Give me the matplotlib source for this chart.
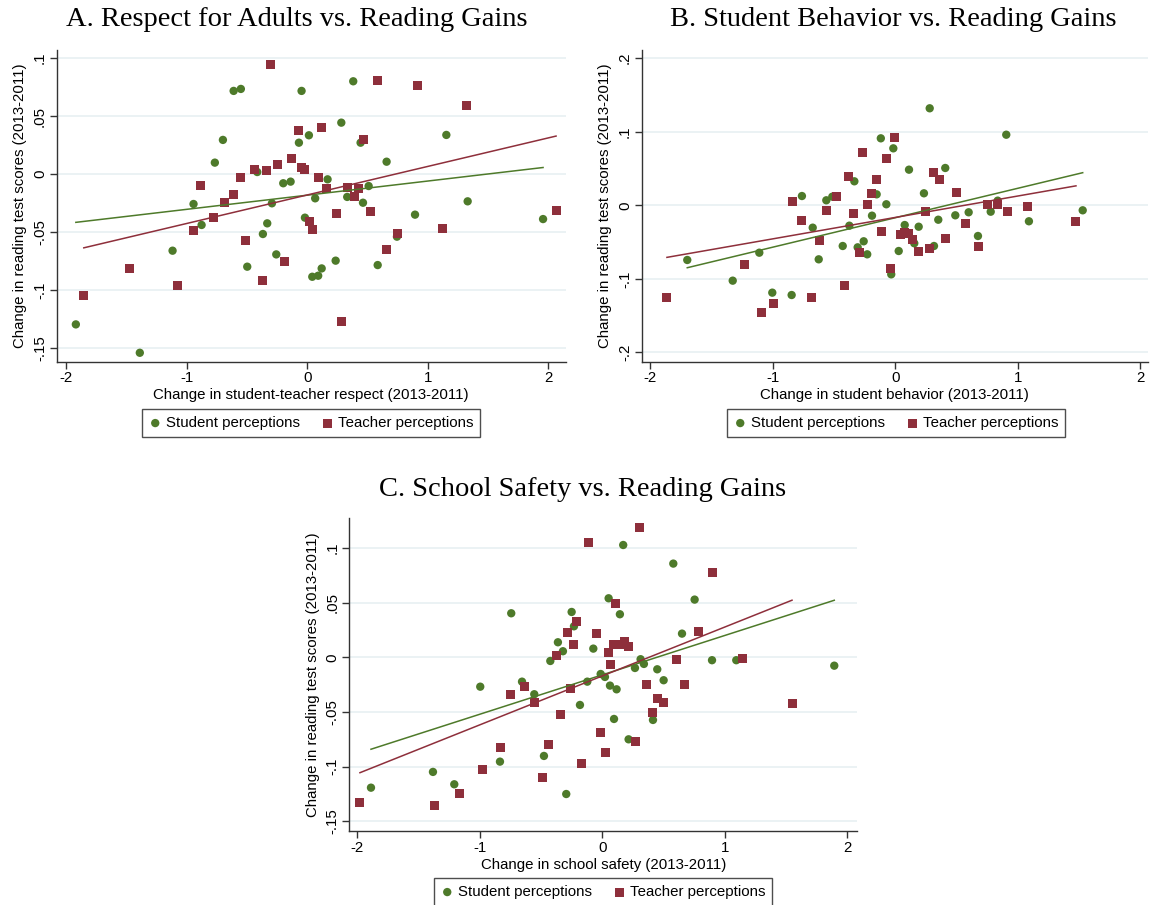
import matplotlib
matplotlib.use("Agg")
import matplotlib.pyplot as plt
import numpy as np
from matplotlib.ticker import FuncFormatter

plt.rcParams['font.family'] = ['Liberation Sans', 'DejaVu Sans']
plt.rcParams['axes.unicode_minus'] = False

# ---------------- Data ----------------
# Panel A: Respect for Adults
a_stu_x = [-1.921, -1.390, -1.118, -0.944, -0.877, -0.767, -0.700, -0.611, -0.551, -0.498,
           -0.415, -0.368, -0.332, -0.293, -0.257, -0.199, -0.138, -0.047, -0.069, 0.014,
           -0.019, 0.066, 0.042, 0.091, 0.120, 0.169, 0.236, 0.283, 0.332, 0.382,
           0.443, 0.463, 0.510, 0.585, 0.659, 0.745, 0.895, 1.155, 1.332, 1.958]
a_stu_y = [-0.1298, -0.1543, -0.0662, -0.0259, -0.0440, 0.0098, 0.0294, 0.0717, 0.0734, -0.0800,
           0.0017, -0.0518, -0.0426, -0.0253, -0.0694, -0.0080, -0.0066, 0.0717, 0.0270, 0.0334,
           -0.0377, -0.0210, -0.0887, -0.0878, -0.0815, -0.0046, -0.0748, 0.0443, -0.0198, 0.0800,
           0.0270, -0.0248, -0.0104, -0.0786, 0.0106, -0.0541, -0.0351, 0.0337, -0.0236, -0.0389]
a_tea_x = [-1.855, -1.473, -1.074, -0.944, -0.883, -0.777, -0.686, -0.611, -0.551, -0.509,
           -0.434, -0.370, -0.337, -0.301, -0.246, -0.185, -0.133, -0.069, 0.122, -0.047,
           -0.019, 0.095, 0.161, 0.020, 0.045, 0.244, 0.286, 0.338, 0.396, 0.429,
           0.468, 0.526, 0.585, 0.662, 0.751, 0.917, 1.125, 1.326, 2.066]
a_tea_y = [-0.1045, -0.0812, -0.0959, -0.0484, -0.0101, -0.0377, -0.0245, -0.0179, -0.0032, -0.0570,
           0.0037, -0.0915, 0.0029, 0.0941, 0.0084, -0.0751, 0.0130, 0.0374, 0.0400, 0.0055,
           0.0035, -0.0032, -0.0124, -0.0412, -0.0481, -0.0340, -0.1275, -0.0115, -0.0198, -0.0124,
           0.0299, -0.0320, 0.0806, -0.0654, -0.0513, 0.0760, -0.0472, 0.0590, -0.0311]
a_fit = {'stu': (-0.0183, 0.0122), 'tea': (-0.0181, 0.0246)}  # (intercept, slope)

# Panel B: Student Behavior
b_stu_x = [-1.698, -1.327, -1.110, -1.004, -0.846, -0.762, -0.674, -0.625, -0.563, -0.514,
           -0.429, -0.375, -0.334, -0.307, -0.258, -0.229, -0.190, -0.152, -0.118, -0.016,
           -0.073, 0.112, 0.234, 0.281, 0.408, 0.077, 0.191, 0.155, 0.028, 0.351,
           0.316, -0.033, 0.490, 0.599, 0.675, 0.779, 0.836, 0.906, 1.091, 1.530]
b_stu_y = [-0.0743, -0.1024, -0.0644, -0.1187, -0.1219, 0.0126, -0.0304, -0.0734, 0.0068, 0.0117,
           -0.0553, -0.0277, 0.0326, -0.0571, -0.0489, -0.0666, -0.0141, 0.0149, 0.0910, 0.0774,
           0.0014, 0.0484, 0.0163, 0.1318, 0.0507, -0.0268, -0.0291, -0.0516, -0.0621, -0.0196,
           -0.0553, -0.0938, -0.0136, -0.0095, -0.0417, -0.0087, 0.0063, 0.0959, -0.0217, -0.0068]
b_tea_x = [-1.864, -1.233, -1.088, -0.996, -0.835, -0.762, -0.680, -0.617, -0.560, -0.478,
           -0.413, -0.380, -0.340, -0.296, -0.264, -0.225, -0.193, -0.155, -0.110, -0.070,
           -0.005, -0.043, 0.044, 0.073, 0.109, 0.144, 0.191, 0.248, 0.283, 0.316,
           0.357, 0.411, 0.501, 0.577, 0.681, 0.749, 0.838, 0.917, 1.083, 1.475]
b_tea_y = [-0.1246, -0.0811, -0.1459, -0.1328, 0.0058, -0.0209, -0.1246, -0.0485, -0.0064, 0.0117,
           -0.1083, 0.0398, -0.0114, -0.0644, 0.0715, 0.0008, 0.0158, 0.0348, -0.0360, 0.0633,
           0.0919, -0.0861, -0.0399, -0.0372, -0.0386, -0.0471, -0.0630, -0.0091, -0.0589, 0.0443,
           0.0348, -0.0454, 0.0171, -0.0254, -0.0562, 0.0008, 0.0014, -0.0087, -0.0019, -0.0223]
b_fit = {'stu': (-0.0169, 0.0400), 'tea': (-0.0165, 0.0291)}

# Panel C: School Safety
c_stu_x = [-1.888, -1.382, -1.208, -0.996, -0.835, -0.743, -0.655, -0.555, -0.476, -0.424,
           -0.362, -0.321, -0.294, -0.250, -0.231, -0.182, -0.122, -0.073, -0.013, 0.022,
           0.052, 0.063, 0.096, 0.117, 0.144, 0.171, 0.215, 0.267, 0.313, 0.340,
           0.414, 0.449, 0.501, 0.580, 0.651, 0.754, 0.896, 1.094, 1.894]
c_stu_y = [-0.1192, -0.1048, -0.1161, -0.0269, -0.0954, 0.0402, -0.0223, -0.0338, -0.0902, -0.0034,
           0.0137, 0.0055, -0.1250, 0.0414, 0.0283, -0.0436, -0.0223, 0.0079, -0.0153, -0.0180,
           0.0539, -0.0259, -0.0564, -0.0293, 0.0393, 0.1026, -0.0750, -0.0098, -0.0018, -0.0061,
           -0.0573, -0.0110, -0.0210, 0.0856, 0.0216, 0.0527, -0.0027, -0.0027, -0.0077]
c_tea_x = [-1.978, -1.368, -1.167, -0.976, -0.829, -0.745, -0.631, -0.552, -0.490, -0.438,
           -0.370, -0.337, -0.283, -0.258, -0.231, -0.209, -0.168, -0.109, -0.051, -0.011,
           0.030, 0.047, 0.071, 0.112, 0.093, 0.139, 0.183, 0.218, 0.275, 0.308,
           0.365, 0.414, 0.455, 0.496, 0.602, 0.675, 0.789, 0.896, 1.146, 1.549]
c_tea_y = [-0.1323, -0.1356, -0.1247, -0.1027, -0.0826, -0.0342, -0.0269, -0.0415, -0.1103, -0.0799,
           0.0015, -0.0525, 0.0225, -0.0290, 0.0115, 0.0325, -0.0975, 0.1048, 0.0213, -0.0689,
           -0.0875, 0.0042, -0.0070, 0.0494, 0.0115, 0.0115, 0.0140, 0.0097, -0.0771, 0.1188,
           -0.0253, -0.0506, -0.0378, -0.0415, -0.0025, -0.0253, 0.0231, 0.0771, -0.0013, -0.0427]
c_fit = {'stu': (-0.0161, 0.0360), 'tea': (-0.0171, 0.0447)}

titles = ["A. Respect for Adults vs. Reading Gains",
          "B. Student Behavior vs. Reading Gains",
          "C. School Safety vs. Reading Gains"]
xlabels = ["Change in student-teacher respect (2013-2011)",
           "Change in student behavior (2013-2011)",
           "Change in school safety (2013-2011)"]
ylabel = "Change in reading test scores (2013-2011)"
legend_labels = ["Student perceptions", "Teacher perceptions"]
x_ticks = [-2, -1, 0, 1, 2]
y_ticks_a = [-0.15, -0.1, -0.05, 0, 0.05, 0.1]
y_ticks_b = [-0.2, -0.1, 0, 0.1, 0.2]
y_ticks_c = [-0.15, -0.1, -0.05, 0, 0.05, 0.1]

# ---------------- Style ----------------
GREEN = '#4e7a2a'
RED = '#8e2f3b'
GRID = '#e9f1f3'
SPINE = '#333333'
W, H = 1150, 905


def stata_fmt(v, pos):
    if abs(v) < 1e-9:
        return "0"
    s = ("%g" % round(v, 4))
    s = s.replace("0.", ".")
    return s


def make_panel(rect, sx, sy, tx, ty, fit, xlim, ylim, yticks, xlabel, title, tcenter, legcenter):
    ax = fig.add_axes(rect)
    for ycv in yticks:
        ax.axhline(ycv, color=GRID, lw=1.3, zorder=0)
    ax.scatter(sx, sy, s=36, marker='o', color=GREEN, edgecolors='none', zorder=3,
               label=legend_labels[0])
    ax.scatter(tx, ty, s=42, marker='s', color=RED, edgecolors='none', zorder=3,
               label=legend_labels[1])
    for key, xs, col in (('stu', sx, GREEN), ('tea', tx, RED)):
        b0, b1 = fit[key]
        xx = np.array([min(xs), max(xs)])
        ax.plot(xx, b0 + b1 * xx, color=col, lw=1.1, zorder=4)
    ax.set_xlim(*xlim)
    ax.set_ylim(*ylim)
    ax.set_xticks(x_ticks)
    ax.set_yticks(yticks)
    ax.yaxis.set_major_formatter(FuncFormatter(stata_fmt))
    for lab in ax.get_yticklabels():
        lab.set_rotation(90)
        lab.set_va('center')
    ax.spines['top'].set_visible(False)
    ax.spines['right'].set_visible(False)
    for sp in ('left', 'bottom'):
        ax.spines[sp].set_color(SPINE)
        ax.spines[sp].set_linewidth(1.0)
    ax.tick_params(axis='both', direction='out', length=5, width=1.0, color=SPINE,
                   labelsize=10.8, labelcolor='black', pad=2)
    ax.set_xlabel(xlabel, fontsize=10.8, labelpad=2)
    ax.set_ylabel(ylabel, fontsize=10.8, labelpad=4)
    fig.text(tcenter[0] / W, 1 - tcenter[1] / H, title, ha='center', va='center',
             fontsize=20.5, family=['Liberation Serif', 'DejaVu Serif'])
    h, l = ax.get_legend_handles_labels()
    leg = fig.legend(h, l, loc='center', bbox_to_anchor=(legcenter[0] / W, 1 - legcenter[1] / H),
                     ncol=2, fontsize=10.8, frameon=True, fancybox=False, edgecolor='#222222',
                     handletextpad=0.25, columnspacing=1.4, borderpad=0.45, handlelength=0.9,
                     scatterpoints=1)
    leg.get_frame().set_linewidth(1.0)
    return ax


fig = plt.figure(figsize=(W / 100, H / 100), dpi=100)

make_panel([56.7 / W, 1 - 361.7 / H, 509 / W, 311.7 / H],
           a_stu_x, a_stu_y, a_tea_x, a_tea_y, a_fit,
           (-2.08, 2.146), (-0.162, 0.107), y_ticks_a, xlabels[0], titles[0],
           (296.5, 20), (311, 423))
make_panel([641.7 / W, 1 - 361.7 / H, 506.3 / W, 311.7 / H],
           b_stu_x, b_stu_y, b_tea_x, b_tea_y, b_fit,
           (-2.07, 2.063), (-0.2125, 0.211), y_ticks_b, xlabels[1], titles[1],
           (893, 20), (896, 423))
make_panel([349.3 / W, 1 - 831 / H, 508 / W, 312.7 / H],
           c_stu_x, c_stu_y, c_tea_x, c_tea_y, c_fit,
           (-2.065, 2.082), (-0.1588, 0.127), y_ticks_c, xlabels[2], titles[2],
           (582.5, 489), (603, 892))

fig.savefig("out.png", dpi=100, facecolor='white')
